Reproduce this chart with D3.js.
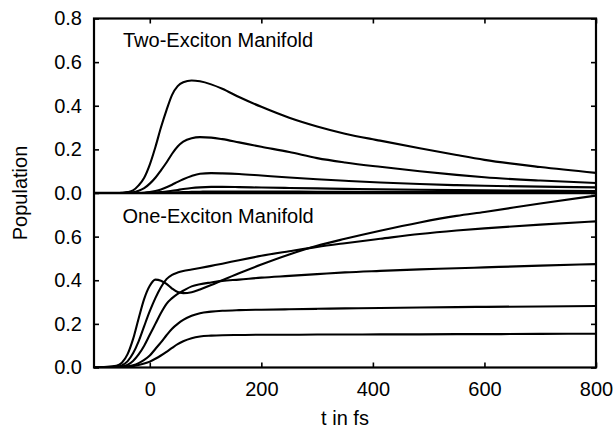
<!DOCTYPE html>
<html>
<head>
<meta charset="utf-8">
<script src="https://cdn.jsdelivr.net/npm/d3@7"></script>
<style>
  html, body { margin: 0; padding: 0; background: #fff; }
  svg { display: block; }
  text { font-family: "Liberation Sans", Arial, Helvetica, sans-serif; fill: #000; }
</style>
</head>
<body>
<svg id="chart" width="616" height="428"></svg>
<script>
// ---- data ----
const times = [-100,-60,-50,-40,-30,-20,-10,0,10,20,30,40,50,60,75,90,110,130,160,200,250,300,350,413,484,550,600,700,800];

// Two-exciton manifold populations
const twoA = [0,0,0.001,0.004,0.012,0.035,0.07,0.13,0.21,0.30,0.38,0.45,0.49,0.508,0.516,0.512,0.498,0.478,0.44,0.395,0.345,0.305,0.272,0.24,0.205,0.174,0.152,0.119,0.092];
const twoB = [0,0,0,0.001,0.003,0.01,0.022,0.043,0.07,0.104,0.14,0.18,0.213,0.235,0.251,0.256,0.254,0.247,0.232,0.212,0.188,0.16,0.14,0.12,0.1,0.083,0.072,0.057,0.046];
const twoC = [0,0,0,0,0,0,0.001,0.004,0.009,0.016,0.026,0.038,0.051,0.063,0.078,0.088,0.091,0.09,0.087,0.08,0.071,0.063,0.056,0.048,0.041,0.036,0.033,0.029,0.026];
const twoD = [0,0,0,0,0,0,0,0.001,0.002,0.004,0.007,0.01,0.014,0.018,0.023,0.026,0.028,0.028,0.027,0.025,0.023,0.021,0.019,0.017,0.015,0.013,0.012,0.011,0.009];
const twoE = [0,0,0,0,0,0,0,0,0,0.001,0.001,0.002,0.003,0.004,0.005,0.006,0.007,0.007,0.007,0.007,0.007,0.006,0.006,0.005,0.005,0.004,0.004,0.004,0.003];

// One-exciton manifold populations
const oneA = [0,0.008,0.022,0.06,0.13,0.225,0.315,0.375,0.403,0.398,0.383,0.362,0.346,0.341,0.345,0.358,0.378,0.4,0.432,0.472,0.518,0.558,0.59,0.627,0.665,0.695,0.713,0.752,0.788];
const oneB = [0,0.003,0.01,0.028,0.065,0.12,0.19,0.258,0.318,0.368,0.405,0.425,0.435,0.442,0.449,0.456,0.466,0.476,0.492,0.512,0.533,0.553,0.57,0.59,0.612,0.628,0.638,0.655,0.67];
const oneC = [0,0.001,0.004,0.012,0.03,0.06,0.1,0.15,0.2,0.25,0.292,0.318,0.338,0.352,0.372,0.382,0.39,0.397,0.403,0.412,0.42,0.428,0.436,0.443,0.45,0.455,0.459,0.467,0.474];
const oneD = [0,0,0.002,0.005,0.01,0.02,0.035,0.055,0.085,0.115,0.148,0.178,0.2,0.218,0.237,0.249,0.256,0.26,0.263,0.265,0.267,0.269,0.271,0.273,0.275,0.277,0.278,0.28,0.282];
const oneE = [0,0,0.001,0.003,0.006,0.011,0.018,0.027,0.04,0.055,0.072,0.09,0.107,0.12,0.134,0.142,0.146,0.148,0.149,0.15,0.15,0.151,0.151,0.152,0.152,0.153,0.153,0.154,0.155];

const xTicks = [0, 200, 400, 600, 800];
const yTicksTop = [0, 0.2, 0.4, 0.6, 0.8];
const yTicksBottom = [0, 0.2, 0.4, 0.6];
const titleTop = "Two-Exciton Manifold";
const titleBottom = "One-Exciton Manifold";
const xLabel = "t in fs";
const yLabel = "Population";

// ---- layout ----
const svg = d3.select("#chart");
const pLeft = 94, pRight = 596, pTop = 18.5, pMid = 193, pBottom = 367.5;
const fontSize = 20;

const x = d3.scaleLinear().domain([-100, 800]).range([pLeft, pRight]);
const yTop = d3.scaleLinear().domain([0, 0.8]).range([pMid, pTop]);
const yBot = d3.scaleLinear().domain([0, 0.8]).range([pBottom, pMid]);

const defs = svg.append("defs");
defs.append("clipPath").attr("id", "clipTop").append("rect")
  .attr("x", pLeft).attr("y", pTop).attr("width", pRight - pLeft).attr("height", pMid - pTop);
defs.append("clipPath").attr("id", "clipBot").append("rect")
  .attr("x", pLeft).attr("y", pMid).attr("width", pRight - pLeft).attr("height", pBottom - pMid);

function drawPanel(yScale, seriesList, clipId) {
  const line = d3.line()
    .x((d, i) => x(times[i]))
    .y(d => yScale(d))
    .curve(d3.curveMonotoneX);
  const g = svg.append("g").attr("clip-path", `url(#${clipId})`);
  seriesList.forEach(s => {
    g.append("path").attr("d", line(s))
      .attr("fill", "none").attr("stroke", "#000").attr("stroke-width", 2.1)
      .attr("stroke-linejoin", "round");
  });
}
drawPanel(yTop, [twoA, twoB, twoC, twoD, twoE], "clipTop");
drawPanel(yBot, [oneA, oneB, oneC, oneD, oneE], "clipBot");

// ---- axes ----
function styleAxis(g) {
  g.select(".domain").remove();
  g.selectAll(".tick line").attr("stroke", "#000").attr("stroke-width", 1.6);
  g.selectAll(".tick text").attr("font-size", fontSize);
  g.attr("font-family", null).attr("font-size", null);
}
svg.append("g").attr("transform", `translate(${pLeft},0)`)
  .call(d3.axisLeft(yTop).tickValues(yTicksTop).tickFormat(d3.format(".1f")).tickSize(-5).tickSizeOuter(0).tickPadding(12))
  .call(styleAxis);
svg.append("g").attr("transform", `translate(${pLeft},0)`)
  .call(d3.axisLeft(yBot).tickValues(yTicksBottom).tickFormat(d3.format(".1f")).tickSize(-5).tickSizeOuter(0).tickPadding(12))
  .call(styleAxis);
svg.append("g").attr("transform", `translate(${pRight},0)`)
  .call(d3.axisRight(yTop).tickValues(yTicksTop).tickFormat("").tickSize(-5).tickSizeOuter(0))
  .call(styleAxis);
svg.append("g").attr("transform", `translate(${pRight},0)`)
  .call(d3.axisRight(yBot).tickValues(yTicksBottom).tickFormat("").tickSize(-5).tickSizeOuter(0))
  .call(styleAxis);
svg.append("g").attr("transform", `translate(0,${pBottom})`)
  .call(d3.axisBottom(x).tickValues(xTicks).tickFormat(d3.format("d")).tickSize(-5).tickSizeOuter(0).tickPadding(14))
  .call(styleAxis);
svg.append("g").attr("transform", `translate(0,${pTop})`)
  .call(d3.axisTop(x).tickValues(xTicks).tickFormat("").tickSize(-5).tickSizeOuter(0))
  .call(styleAxis);

// ---- frame ----
svg.append("rect").attr("x", pLeft).attr("y", pTop).attr("width", pRight - pLeft).attr("height", pBottom - pTop)
  .attr("fill", "none").attr("stroke", "#000").attr("stroke-width", 2.2);
svg.append("line").attr("x1", pLeft).attr("x2", pRight).attr("y1", pMid).attr("y2", pMid)
  .attr("stroke", "#000").attr("stroke-width", 2.6);

// ---- texts ----
svg.append("text").attr("x", 123).attr("y", 46.5).attr("font-size", fontSize).text(titleTop);
svg.append("text").attr("x", 122.5).attr("y", 222.5).attr("font-size", fontSize).text(titleBottom);
svg.append("text").attr("x", (pLeft + pRight) / 2).attr("y", 425).attr("text-anchor", "middle")
  .attr("font-size", fontSize).text(xLabel);
svg.append("text").attr("transform", `translate(27,${(pTop + pBottom) / 2}) rotate(-90)`)
  .attr("text-anchor", "middle").attr("font-size", fontSize).text(yLabel);
</script>
</body>
</html>
